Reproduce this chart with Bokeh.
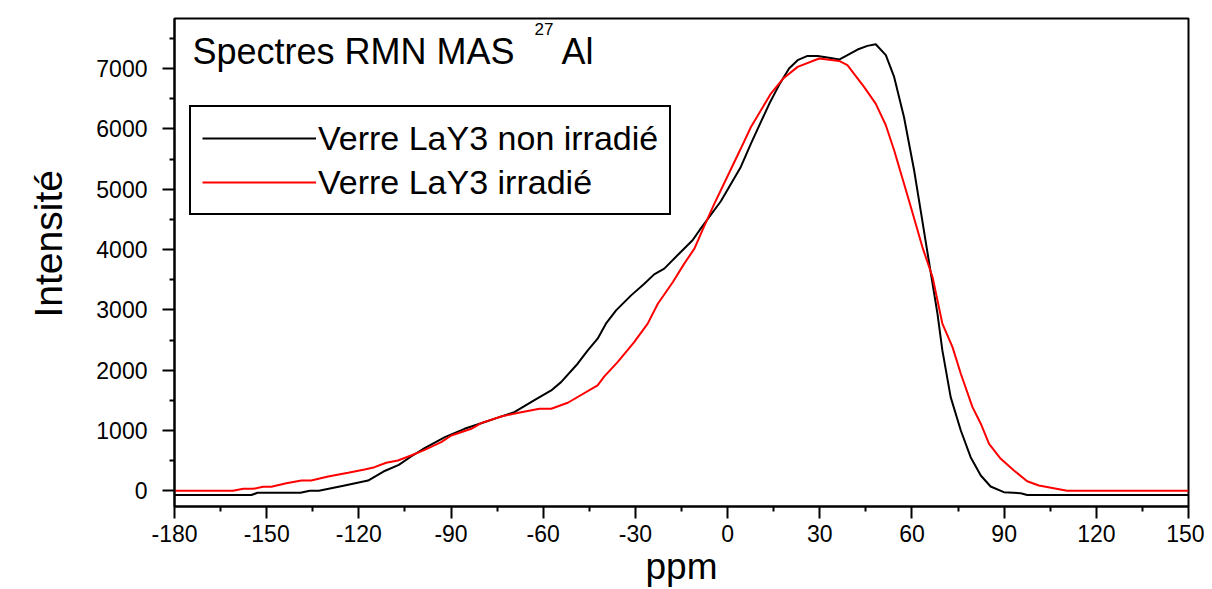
from bokeh.plotting import figure
from bokeh.models import (Range1d, FixedTicker, Legend, LegendItem, Label, Title,
                          CustomJSTickFormatter)
from bokeh.embed import file_html
from bokeh.resources import INLINE

# ---- data ----
ppm_non_irr = [-180, -155, -153, -139, -136, -133, -125, -117, -112, -107, -103, -98.6,
               -92, -85.6, -79, -74, -69.4, -63, -57.4, -54.2, -48.8, -45.5, -42.3,
               -39.6, -36.3, -31.4, -27.1, -23.9, -20.6, -16.3, -11.4, -8.7, -2.2, 4.3,
               7.6, 13.6, 17, 20, 22.8, 26, 29.3, 33, 36.3, 39, 42.3, 45.5, 48.2, 51.5,
               54.2, 57.4, 60.7, 62.3, 66.1, 68.3, 69.9, 72.6, 75.9, 79.1, 82.4, 85.6,
               89.9, 95.4, 97.5, 150]
int_non_irr = [-70, -70, -33, -33, 0, 0, 85, 170, 320, 430, 569, 707,
               889, 1028, 1140, 1225, 1304, 1498, 1664, 1802, 2107, 2328, 2522,
               2771, 2991, 3240, 3434, 3588, 3683, 3904, 4153, 4350, 4800, 5369,
               5757, 6420, 6750, 7001, 7139, 7210, 7210, 7180, 7150, 7222, 7316, 7376, 7404, 7222,
               6862, 6198, 5314, 4816, 3620, 2937, 2328, 1553, 1000, 558, 254, 71,
               -23, -40, -70, -70]

ppm_irr = [-180, -161, -157.6, -154.4, -151.2, -148.5, -143.6, -138.7, -135.5, -130,
           -123.5, -118.1, -114.9, -111.1, -107.3, -103, -98.6, -93.2, -89.9, -83.4,
           -80.2, -73.7, -67.2, -61.2, -57.4, -52, -42.3, -40.1, -35.8, -30.4, -26,
           -22.7, -17.8, -14.1, -10.8, -8.1, -4.3, -2.2, 4.3, 7.6, 14.1, 18, 22.8,
           29.8, 36.3, 39, 44.4, 48.2, 51.5, 54.2, 59, 63.4, 66.7, 69.9, 73.2, 75.9,
           79.7, 82.4, 85.1, 88.9, 93.2, 97.5, 101.3, 110.5, 150]
int_irr = [0, 0, 33, 33, 66, 66, 126, 171, 171, 237,
           299, 353, 392, 465, 503, 586, 680, 806, 917, 1028,
           1122, 1232, 1304, 1360, 1360, 1460, 1747, 1896, 2134, 2465, 2771,
           3102, 3461, 3766, 4015, 4330, 4761, 4982, 5674, 6032, 6586, 6830, 7028,
           7167, 7127, 7056, 6696, 6420, 6060, 5645, 4816, 4041, 3544, 2771, 2382, 1941,
           1387, 1112, 780, 531, 337, 159, 88, 0, 0]

x_major = [-180, -150, -120, -90, -60, -30, 0, 30, 60, 90, 120, 150]
x_minor = [-165, -135, -105, -75, -45, -15, 15, 45, 75, 105, 135]
y_major = [0, 1000, 2000, 3000, 4000, 5000, 6000, 7000]
y_minor = [500, 1500, 2500, 3500, 4500, 5500, 6500, 7500]

labels = ["Verre LaY3 non irradié", "Verre LaY3 irradié"]
FONT = "Liberation Sans"

p = figure(width=1204, height=589, x_range=Range1d(-180, 150), y_range=Range1d(-260, 7830),
           output_backend="svg", toolbar_location=None,
           min_border_left=173, min_border_right=16, min_border_top=18, min_border_bottom=75,
           x_axis_label="ppm")
p.xgrid.visible = False
p.ygrid.visible = False
p.outline_line_color = "black"
p.outline_line_width = 2
p.outline_line_alpha = 1

p.xaxis.ticker = FixedTicker(ticks=x_major, minor_ticks=x_minor)
p.yaxis.ticker = FixedTicker(ticks=y_major, minor_ticks=y_minor)
for ax in (p.xaxis[0], p.yaxis[0]):
    ax.formatter = CustomJSTickFormatter(code="return tick.toFixed(0);")
    ax.axis_line_width = 2
    ax.axis_line_color = "black"
    ax.major_tick_line_width = 2
    ax.minor_tick_line_width = 2
    ax.major_tick_line_color = "black"
    ax.minor_tick_line_color = "black"
    ax.major_tick_out = 12
    ax.major_tick_in = 0
    ax.minor_tick_out = 5
    ax.minor_tick_in = 0
    ax.major_label_text_font = FONT
    ax.major_label_text_font_size = "23px"
    ax.major_label_text_color = "black"
    ax.axis_label_text_font = FONT
    ax.axis_label_text_font_size = "37px"
    ax.axis_label_text_font_style = "normal"
    ax.axis_label_text_color = "black"
p.xaxis.major_label_standoff = 6
p.xaxis.axis_label_standoff = 1
p.yaxis.major_label_standoff = 15

rb = p.line(ppm_non_irr, int_non_irr, line_color="black", line_width=2)
rr = p.line(ppm_irr, int_irr, line_color="#ff0000", line_width=2)

legend = Legend(items=[LegendItem(label=labels[0], renderers=[rb]),
                       LegendItem(label=labels[1], renderers=[rr])],
                location=(15, 291), label_text_font=FONT, label_text_font_size="34px",
                label_text_color="black",
                glyph_width=114, glyph_height=40, label_height=40, spacing=4,
                padding=11, margin=0, border_line_color="black", border_line_width=2,
                border_line_alpha=1, label_standoff=2, background_fill_alpha=1)
p.add_layout(legend)

# y-axis title as a left-side title (lets it be shifted along the axis)
ytitle = Title(text="Intensité", align="left", offset=189, standoff=48,
               text_font=FONT, text_font_size="39px", text_font_style="normal",
               text_color="black")
p.add_layout(ytitle, "left")

p.add_layout(Label(x=18, y=455, x_units="screen", y_units="screen", text="Spectres RMN MAS",
                   text_font=FONT, text_font_size="36px", text_color="black",
                   text_baseline="alphabetic"))
p.add_layout(Label(x=360, y=478, x_units="screen", y_units="screen", text="27",
                   text_font=FONT, text_font_size="17px", text_color="black",
                   text_baseline="alphabetic"))
p.add_layout(Label(x=387, y=455, x_units="screen", y_units="screen", text="Al",
                   text_font=FONT, text_font_size="36px", text_color="black",
                   text_baseline="alphabetic"))

open("out.html", "w").write(file_html(p, INLINE))
